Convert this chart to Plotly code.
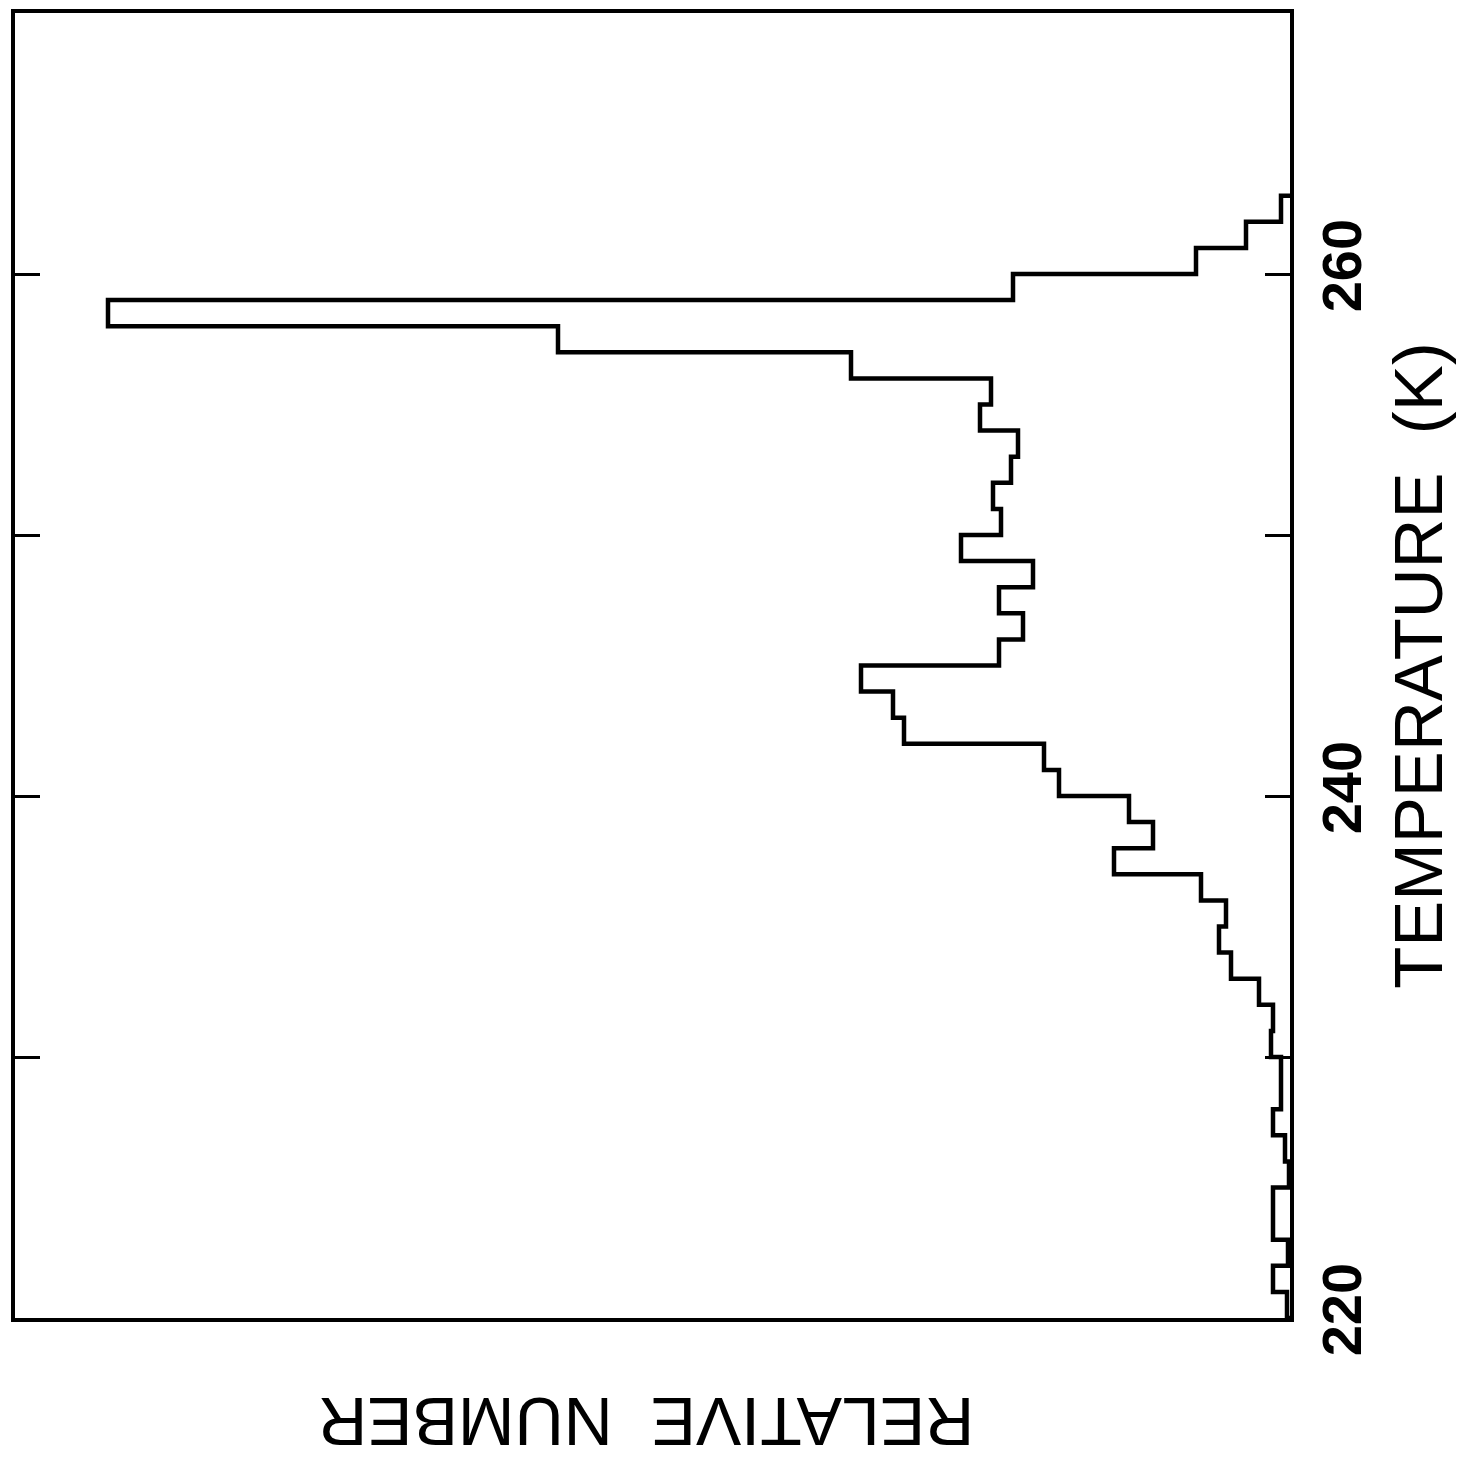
import plotly.graph_objects as go

# Temperature bins (K), 1 K wide, lower edges 220..262
bin_lower = list(range(220, 263))
bin_upper_last = 263
# Relative number in each bin (arbitrary units)
rel_number = [0.3, 1.7, 0.2, 1.7, 1.7, 0.1, 0.5, 1.7, 0.9, 0.9,
              1.9, 1.7, 3.1, 5.9, 7.1, 6.4, 8.9, 17.6, 13.7, 16.1,
              23.1, 24.6, 38.6, 39.7, 42.9, 29.1, 26.7, 29.1, 25.7, 32.9,
              28.9, 29.7, 27.9, 27.2, 31.0, 29.9, 43.9, 73.2, 118.2, 27.7,
              9.4, 4.4, 0.9]

tick_vals = [220, 230, 240, 250, 260]
tick_text = ["220", "", "240", "", "260"]

# step outline: x = counts, y = bin edges
xs = [0] + rel_number + [0]
ys = [bin_lower[0]] + bin_lower + [bin_upper_last]

fig = go.Figure()
fig.add_trace(go.Scatter(
    x=xs, y=ys, mode="lines", line=dict(shape="vh", color="black", width=4.5),
    hoverinfo="skip", showlegend=False))

font = "Liberation Sans, Arial, sans-serif"

fig.update_layout(
    width=1457, height=1459,
    margin=dict(l=15, r=167, t=13, b=141),
    paper_bgcolor="white", plot_bgcolor="white",
    xaxis=dict(range=[127.5, 0], showgrid=False, zeroline=False,
               showticklabels=False, ticks="", showline=True, mirror=True,
               linecolor="black", linewidth=4, automargin=False),
    yaxis=dict(range=[220, 270], side="right", showgrid=False, zeroline=False,
               tickvals=tick_vals, ticktext=tick_text, ticks="inside",
               ticklen=25, tickwidth=3, tickcolor="black",
               showline=True, mirror="ticks", linecolor="black", linewidth=4,
               tickangle=-90, ticklabelstandoff=0, automargin=False,
               tickfont=dict(family=font, size=56, color="black", weight="bold"),
               title=dict(text="TEMPERATURE\u00a0\u00a0(K)", standoff=33,
                          font=dict(family=font, size=69, color="black"))),
    annotations=[dict(text="RELATIVE\u00a0\u00a0NUMBER", textangle=180,
                      xref="paper", yref="paper", x=0.495, y=-0.0797,
                      xanchor="center", yanchor="middle", showarrow=False,
                      font=dict(family=font, size=68, color="black"))],
)

fig.write_html("out.html")
